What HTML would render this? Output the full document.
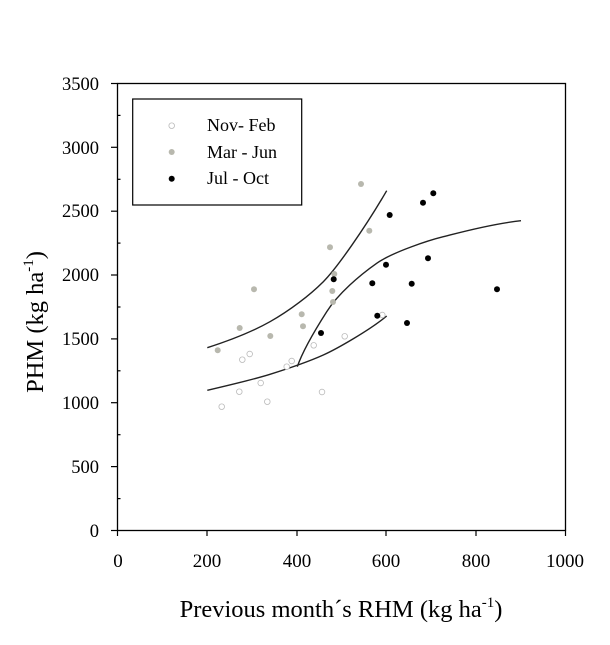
<!DOCTYPE html>
<html><head><style>body{margin:0;background:#fff}svg{display:block}svg text{font-family:"Liberation Serif","DejaVu Serif",serif;fill:#000}</style></head>
<body>
<svg width="610" height="645" viewBox="0 0 610 645" font-family="Liberation Serif, DejaVu Serif, serif">
<rect x="117.5" y="83.5" width="448" height="447" fill="none" stroke="#000" stroke-width="1.3"/>
<g stroke="#000" stroke-width="1.2">
<line x1="117.5" y1="530.5" x2="117.5" y2="536"/><line x1="207" y1="530.5" x2="207" y2="536"/><line x1="297" y1="530.5" x2="297" y2="536"/><line x1="386" y1="530.5" x2="386" y2="536"/><line x1="476" y1="530.5" x2="476" y2="536"/><line x1="565.5" y1="530.5" x2="565.5" y2="536"/>
<line x1="111" y1="530.5" x2="117.5" y2="530.5"/><line x1="111" y1="466.6" x2="117.5" y2="466.6"/><line x1="111" y1="402.7" x2="117.5" y2="402.7"/><line x1="111" y1="338.9" x2="117.5" y2="338.9"/><line x1="111" y1="275" x2="117.5" y2="275"/><line x1="111" y1="211.2" x2="117.5" y2="211.2"/><line x1="111" y1="147.3" x2="117.5" y2="147.3"/><line x1="111" y1="83.5" x2="117.5" y2="83.5"/>
<line x1="117.5" y1="498.6" x2="120.5" y2="498.6"/><line x1="117.5" y1="434.7" x2="120.5" y2="434.7"/><line x1="117.5" y1="370.8" x2="120.5" y2="370.8"/><line x1="117.5" y1="307" x2="120.5" y2="307"/><line x1="117.5" y1="243.1" x2="120.5" y2="243.1"/><line x1="117.5" y1="179.3" x2="120.5" y2="179.3"/><line x1="117.5" y1="115.4" x2="120.5" y2="115.4"/>
</g>
<g font-size="18.5" text-anchor="end">
<text x="99" y="537">0</text><text x="99" y="473">500</text><text x="99" y="409">1000</text><text x="99" y="345">1500</text><text x="99" y="281">2000</text><text x="99" y="217">2500</text><text x="99" y="154">3000</text><text x="99" y="90">3500</text>
</g>
<g font-size="19" text-anchor="middle">
<text x="118" y="567">0</text><text x="207" y="567">200</text><text x="297" y="567">400</text><text x="386" y="567">600</text><text x="476" y="567">800</text><text x="565" y="567">1000</text>
</g>
<text x="341" y="617" font-size="24.5" text-anchor="middle">Previous month´s RHM (kg ha<tspan font-size="15" dy="-10">-1</tspan><tspan dy="10">)</tspan></text>
<text transform="translate(43,322) rotate(-90)" font-size="24.5" text-anchor="middle">PHM (kg ha<tspan font-size="15" dy="-10">-1</tspan><tspan dy="10">)</tspan></text>
<rect x="132.7" y="99" width="169" height="106" fill="none" stroke="#000" stroke-width="1.2"/>
<circle cx="171.7" cy="125.7" r="2.8" fill="#fff" stroke="#bbb" stroke-width="0.8"/>
<circle cx="171.7" cy="152" r="3" fill="#b8b8ae"/>
<circle cx="171.7" cy="178.7" r="3" fill="#000"/>
<g font-size="18"><text x="207" y="131">Nov- Feb</text><text x="207" y="158">Mar - Jun</text><text x="207" y="184">Jul - Oct</text></g>
<g fill="none" stroke="#222" stroke-width="1.4">
<path d="M207.3,347.7 C225,342 250,333 270,321.7 S310,295 323.3,281.7 S365,228 386.7,190.7"/>
<path d="M207.3,390.3 C230,385 255,379 270,374.3 S310,361 323.3,355 S370,330 386.7,316"/>
<path d="M297.3,366.7 C303,350 315,330 326.7,311.7 S360,275 376.7,263.3 S430,240 443.3,236.7 S490,224 521,220.7"/>
</g>
<g fill="#fff" stroke="#bbb" stroke-width="0.8">
<circle cx="221.7" cy="406.7" r="2.8"/><circle cx="239.3" cy="391.7" r="2.8"/><circle cx="242.3" cy="359.7" r="2.8"/><circle cx="249.7" cy="354" r="2.8"/><circle cx="260.7" cy="383" r="2.8"/><circle cx="267.3" cy="401.7" r="2.8"/><circle cx="286.7" cy="366.7" r="2.8"/><circle cx="291.7" cy="361" r="2.8"/><circle cx="313.7" cy="345.3" r="2.8"/><circle cx="322" cy="392" r="2.8"/><circle cx="344.7" cy="336.3" r="2.8"/><circle cx="382.3" cy="315" r="2.8"/>
</g>
<g fill="#b8b8ae">
<circle cx="217.7" cy="350.3" r="3"/><circle cx="239.7" cy="328" r="3"/><circle cx="254" cy="289.3" r="3"/><circle cx="270.3" cy="336" r="3"/><circle cx="301.7" cy="314.3" r="3"/><circle cx="303" cy="326.3" r="3"/><circle cx="330" cy="247.3" r="3"/><circle cx="334.3" cy="274" r="3"/><circle cx="332.3" cy="291" r="3"/><circle cx="333" cy="302" r="3"/><circle cx="361" cy="184" r="3"/><circle cx="369.3" cy="230.7" r="3"/>
</g>
<g fill="#000">
<circle cx="321" cy="333" r="3"/><circle cx="333.7" cy="279.3" r="3"/><circle cx="372.3" cy="283.3" r="3"/><circle cx="377.3" cy="315.7" r="3"/><circle cx="386" cy="264.7" r="3"/><circle cx="389.7" cy="215" r="3"/><circle cx="407" cy="323" r="3"/><circle cx="411.7" cy="283.7" r="3"/><circle cx="423" cy="202.7" r="3"/><circle cx="428" cy="258.3" r="3"/><circle cx="433.3" cy="193.3" r="3"/><circle cx="497" cy="289.3" r="3"/>
</g>
</svg>
</body></html>
